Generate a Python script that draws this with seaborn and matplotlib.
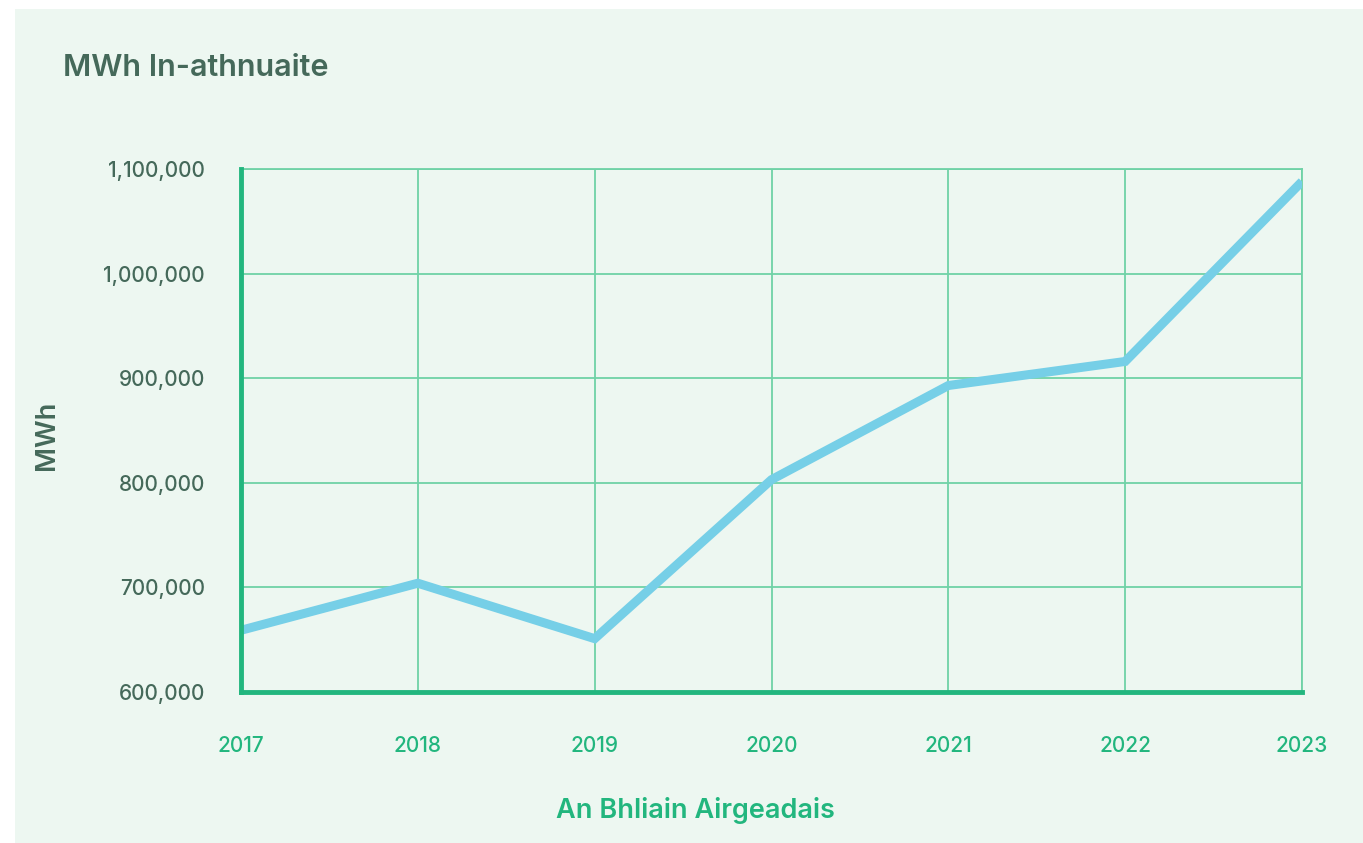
import matplotlib
matplotlib.use("Agg")
import matplotlib.pyplot as plt
import seaborn as sns
import pandas as pd
from matplotlib.patches import Rectangle
from matplotlib.ticker import FuncFormatter

years = ["2017", "2018", "2019", "2020", "2021", "2022", "2023"]
mwh = [659000, 704000, 651000, 803000, 893000, 916000, 1088000]
y_ticks = [600000, 700000, 800000, 900000, 1000000, 1100000]

title = "MWh In-athnuaite"
x_label = "An Bhliain Airgeadais"
y_label = "MWh"

BG = "#EDF7F1"
DARK = "#45695A"
GREEN = "#22B67E"
GRID = "#6FD2A6"
LINE = "#76CFE7"

sns.set_theme(style="white")
plt.rcParams["font.family"] = ["Inter", "DejaVu Sans"]

fig = plt.figure(figsize=(13.63, 8.43), dpi=100)
fig.patch.set_facecolor("white")
bg = Rectangle((15 / 1363, 0), 1 - 15 / 1363, 1 - 9 / 843,
               transform=fig.transFigure, facecolor=BG,
               edgecolor="none", zorder=-10)
fig.patches.append(bg)

ax = fig.add_axes([241 / 1363, 1 - 692 / 843, (1302 - 241) / 1363, (692 - 169) / 843])
ax.set_facecolor(BG)

df = pd.DataFrame({"x": range(len(years)), "y": mwh})
sns.lineplot(data=df, x="x", y="y", ax=ax, color=LINE, linewidth=6.5,
             solid_capstyle="butt", solid_joinstyle="miter", zorder=3)

ax.set_xlim(0, len(years) - 1)
ax.set_ylim(y_ticks[0], y_ticks[-1])
ax.set_xticks(range(len(years)))
ax.set_xticklabels(years)
ax.set_yticks(y_ticks)
ax.yaxis.set_major_formatter(FuncFormatter(lambda v, p: f"{int(v):,}"))

ax.grid(True, color=GRID, linewidth=1.3, zorder=1)
ax.set_axisbelow(True)
for s in ["top", "right"]:
    ax.spines[s].set_color(GRID)
    ax.spines[s].set_linewidth(1.3)
for s in ["left", "bottom"]:
    ax.spines[s].set_color(GREEN)
    ax.spines[s].set_linewidth(3.5)
    ax.spines[s].set_zorder(4)

ax.tick_params(axis="x", length=0, pad=32, labelsize=15, labelcolor=GREEN)
ax.tick_params(axis="y", length=0, pad=26, labelsize=15, labelcolor=DARK)
for lbl in ax.get_xticklabels() + ax.get_yticklabels():
    lbl.set_fontweight("medium")

ax.set_xlabel("")
ax.set_ylabel("")

fig.text(63 / 1363, 1 - 68 / 843, title, fontsize=22, fontweight="semibold",
         color=DARK, ha="left", va="center")
fig.text(695 / 1363, 1 - 810 / 843, x_label, fontsize=19.5, fontweight="semibold",
         color=GREEN, ha="center", va="center")
fig.text(47 / 1363, 1 - 435 / 843, y_label, fontsize=19.5, fontweight="semibold",
         color=DARK, ha="center", va="center", rotation=90)

fig.savefig("out.png", dpi=100, facecolor=fig.get_facecolor())
